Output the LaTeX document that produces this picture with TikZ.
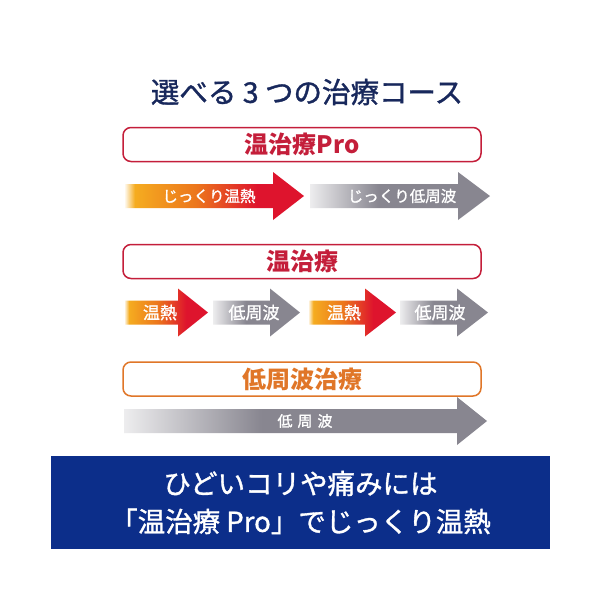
\documentclass[tikz,border=0pt]{standalone}
\usepackage{fontspec}
\setmainfont{Noto Sans CJK JP}
\newfontfamily\jpmedium{Noto Sans CJK JP}[FakeBold=1.2]
\usepackage{xcolor}
\usepackage{tikz}
\usetikzlibrary{positioning,calc}
\definecolor{titlenavy}{RGB}{24,40,92}
\definecolor{coursered}{RGB}{196,30,58}
\definecolor{courseorange}{RGB}{224,118,40}
\definecolor{warmyellow}{RGB}{245,172,32}
\definecolor{warmorange}{RGB}{236,118,28}
\definecolor{warmred}{RGB}{222,20,45}
\definecolor{wavegray}{RGB}{136,134,144}
\definecolor{bannerblue}{RGB}{12,46,138}

% shadings are mapped 25bp..75bp onto the arrow
\pgfdeclarehorizontalshading{warmfade}{100bp}{color(0bp)=(white); color(25bp)=(white); color(28bp)=(warmyellow); color(45bp)=(warmorange); color(62bp)=(warmred); color(100bp)=(warmred)}
\pgfdeclarehorizontalshading{grayfade}{100bp}{color(0bp)=(white); color(25bp)=(white!85!wavegray); color(44bp)=(wavegray); color(100bp)=(wavegray)}

% arrow: shading, start x, head x, tip x, middle y
\newcommand{\courseArrow}[5]{%
  \path[shading=#1] (#2,#5-12) -- (#3,#5-12) -- (#3,#5-24) -- (#4,#5)
    -- (#3,#5+24) -- (#3,#5+12) -- (#2,#5+12) -- cycle;
}

\tikzset{
  coursebox/.style={draw=#1, text=#1, line width=1.5pt, rounded corners=8pt,
    minimum width=358pt, minimum height=34pt, inner sep=0pt,
    font=\fontsize{24}{28}\selectfont\bfseries},
  armlabel/.style={text=white, inner sep=0pt, font=\jpmedium\fontsize{#1}{#1}\selectfont},
  armlabel/.default=16
}

\begin{document}
\begin{tikzpicture}[x=1pt,y=-1pt]
\useasboundingbox[fill=white] (0,0) rectangle (600,600);

\node[text=titlenavy, font=\jpmedium\fontsize{28.5}{32}\selectfont] (title) at (307,92) {選べる 3 つの治療コース};

% course 1
\node[coursebox=coursered] (proBox) at (302,144.5) {温治療Pro};
\courseArrow{warmfade}{124}{273}{304}{196}
\courseArrow{grayfade}{310}{458}{490}{196}
\node[armlabel=15.5] (proHeat) at (209,196) {じっくり温熱};
\node[armlabel=15.5] (proWave) at (402,196) {じっくり低周波};

% course 2
\node[coursebox=coursered] (warmBox) at (302,261.5) {温治療};
\courseArrow{warmfade}{124}{178}{208}{312.5}
\courseArrow{grayfade}{213}{270}{300}{312.5}
\courseArrow{warmfade}{308}{365}{396}{312.5}
\courseArrow{grayfade}{400}{457}{488}{312.5}
\node[armlabel=17] (heatA) at (160,312.5) {温熱};
\node[armlabel=17] (waveA) at (254,312.5) {低周波};
\node[armlabel=17] (heatB) at (344,312.5) {温熱};
\node[armlabel=17] (waveB) at (440,312.5) {低周波};

% course 3
\node[coursebox=courseorange] (waveBox) at (302,379) {低周波治療};
\courseArrow{grayfade}{124}{457}{487}{421}
\node[armlabel=15] (waveOnly) at (305,421) {低\hspace{5pt}周\hspace{5pt}波};

\node[fill=bannerblue, text=white, minimum width=499pt, minimum height=93pt,
  align=center, inner sep=0pt, font=\jpmedium\fontsize{27.5}{38}\selectfont] (banner) at (300.5,502.5)
  {ひどいコリや痛みには\\「温治療 Pro」でじっくり温熱};
\end{tikzpicture}
\end{document}
